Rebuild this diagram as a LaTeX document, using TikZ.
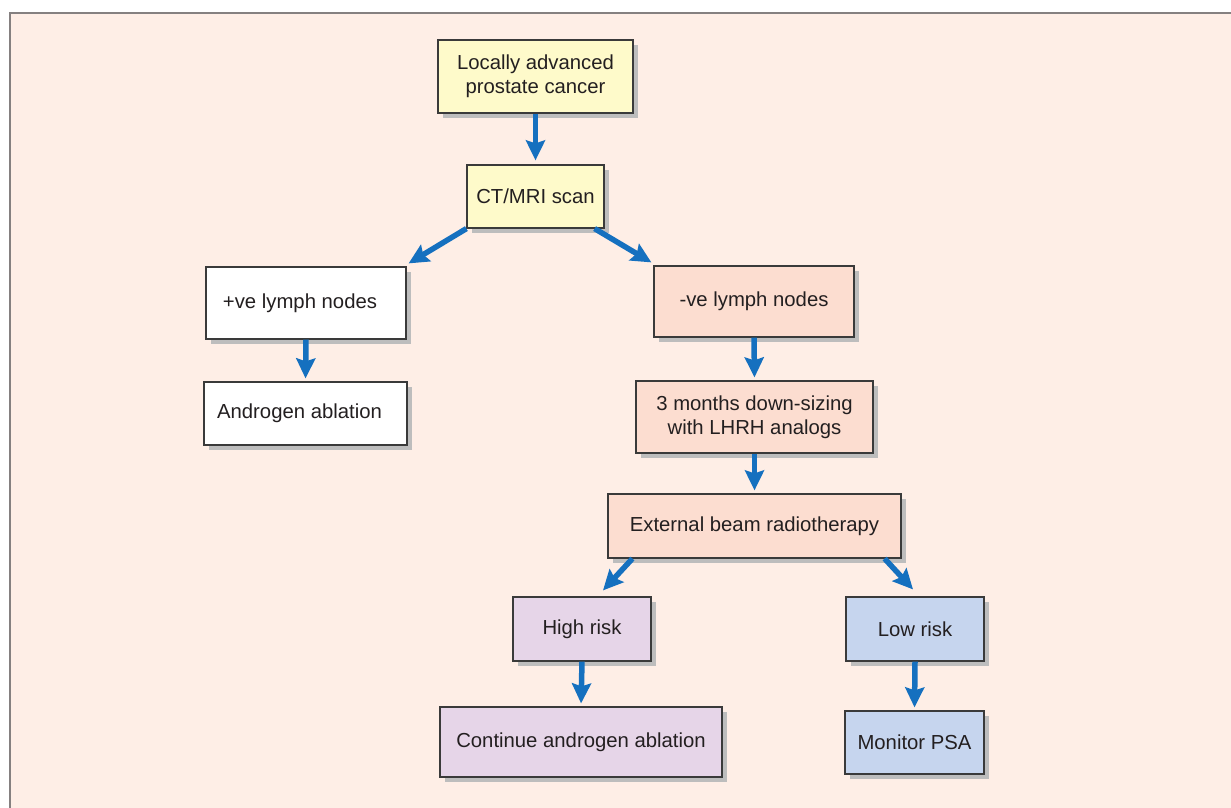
\documentclass[tikz,border=0pt]{standalone}
\usepackage{fontspec}
\setmainfont{Liberation Sans}
\usetikzlibrary{arrows.meta,shadows}
\definecolor{bgc}{HTML}{FEEEE6}
\definecolor{framec}{HTML}{858080}
\definecolor{yel}{HTML}{FEFACA}
\definecolor{sal}{HTML}{FCDDD0}
\definecolor{pur}{HTML}{E6D5E8}
\definecolor{blu}{HTML}{C6D5EE}
\definecolor{arrc}{HTML}{1570BF}
\definecolor{txtc}{HTML}{231F20}
\definecolor{bordc}{HTML}{3A3A3A}
\definecolor{shc}{HTML}{BDBDBD}
\tikzset{
  box/.style={draw=bordc, line width=1.2pt, text=txtc, align=center, inner sep=0pt,
    font=\fontsize{20.3}{24.5}\selectfont,
    drop shadow={shadow xshift=5pt, shadow yshift=-5pt, fill=shc, opacity=1}},
  arr/.style={draw=arrc, line width=5.5pt, -{Stealth[length=20pt,width=19pt,inset=3pt]}}
}
\begin{document}
\begin{tikzpicture}[x=1pt,y=1pt]
\useasboundingbox (0,0) rectangle (1231,-808);
\fill[bgc] (10,-13) rectangle (1231,-808);
\draw[framec, line width=1.5pt] (10,-808) -- (10,-13) -- (1231,-13);

\node[box, fill=yel, minimum width=195pt, minimum height=73pt] (loc) at (535.5,-76.5) {Locally advanced\\prostate cancer};
\node[box, fill=yel, minimum width=137pt, minimum height=63pt] (ct) at (535.5,-196.5) {CT/MRI scan};
\node[box, fill=white, minimum width=200pt, minimum height=72pt] (pos) at (306,-303) {\hspace*{-12pt}+ve lymph nodes};
\node[box, fill=white, minimum width=203pt, minimum height=63pt] (andr) at (305.5,-413.5) {\hspace*{-12pt}Androgen ablation};
\node[box, fill=sal, minimum width=200pt, minimum height=71pt] (neg) at (754,-301.5) {-ve lymph nodes};
\node[box, fill=sal, minimum width=237pt, minimum height=72pt] (three) at (754.5,-417) {3 months down-sizing\\with LHRH analogs};
\node[box, fill=sal, minimum width=293pt, minimum height=64pt] (ebr) at (754.5,-526) {External beam radiotherapy};
\node[box, fill=pur, minimum width=138pt, minimum height=64pt] (high) at (582,-629) {High risk};
\node[box, fill=blu, minimum width=138pt, minimum height=64pt] (low) at (915,-629) {Low risk};
\node[box, fill=pur, minimum width=282pt, minimum height=70pt] (cont) at (581,-742) {Continue androgen ablation};
\node[box, fill=blu, minimum width=139pt, minimum height=63pt] (mon) at (914.5,-742.5) {Monitor PSA};

\draw[arr, shorten >=4pt] (loc.south) -- (ct.north);
\draw[arr] (ct.south west) -- ([shift={(2pt,3pt)}]pos.north east);
\draw[arr] ([xshift=-10pt]ct.south east) -- ([shift={(-2pt,3pt)}]neg.north west);
\draw[arr, shorten >=3pt] (pos.south) -- (andr.north);
\draw[arr, shorten >=3pt] (neg.south) -- (three.north);
\draw[arr, shorten >=3pt] (three.south) -- (ebr.north);
\draw[arr] ([xshift=25pt]ebr.south west) -- ([shift={(21pt,6pt)}]high.north);
\draw[arr] ([xshift=-17pt]ebr.south east) -- ([shift={(-2pt,7pt)}]low.north);
\draw[arr, shorten >=3pt] (high.south) -- (cont.north);
\draw[arr, shorten >=3pt] (low.south) -- (mon.north);
\end{tikzpicture}
\end{document}
